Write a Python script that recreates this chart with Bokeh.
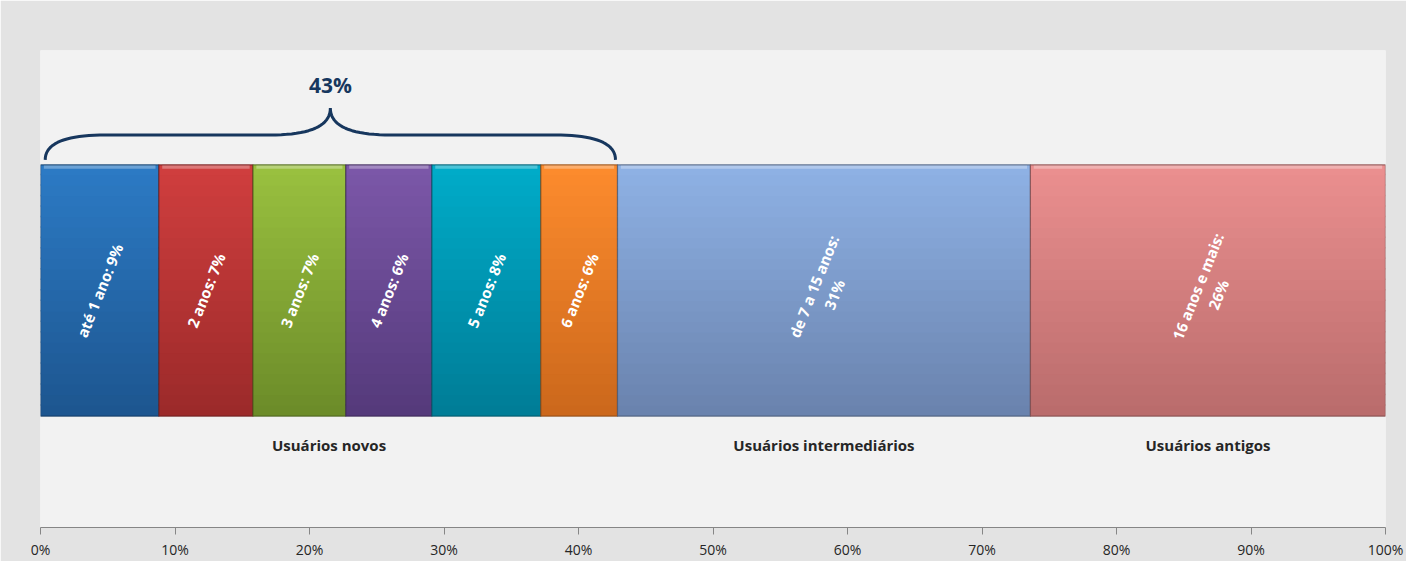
from bokeh.plotting import figure
from bokeh.models import FixedTicker, PrintfTickFormatter, Range1d
from bokeh.core.properties import value
from bokeh.embed import file_html
from bokeh.resources import INLINE

# ---- data ----
segments = ["até 1 ano", "2 anos", "3 anos", "4 anos", "5 anos", "6 anos",
            "de 7 a 15 anos", "16 anos e mais"]
shares = [8.8, 7.0, 6.9, 6.4, 8.1, 5.7, 30.7, 26.4]
bar_labels = ["até 1 ano: 9%", "2 anos: 7%", "3 anos: 7%", "4 anos: 6%",
              "5 anos: 8%", "6 anos: 6%", "de 7 a 15 anos:\n31%", "16 anos e mais:\n26%"]
groups = ["Usuários novos", "Usuários intermediários", "Usuários antigos"]
group_sizes = [6, 1, 1]
brace_label = "43%"
x_ticks = [0, 10, 20, 30, 40, 50, 60, 70, 80, 90, 100]

# ---- style ----
top_cols = ["#2c7ac4", "#cf3e3e", "#99c03f", "#7b57a8", "#00abc8", "#fc8b2d", "#8eb1e4", "#ea8f8f"]
bot_cols = ["#1d5690", "#9c2a2a", "#6c8c29", "#553a7b", "#007d97", "#cc681c", "#6a83ae", "#ba6c6c"]
BAR_Y0, BAR_Y1 = 112, 365


def hex2rgb(h):
    h = h.lstrip("#")
    return tuple(int(h[i:i + 2], 16) for i in (0, 2, 4))


def mix(a, b, t):
    ra, rb = hex2rgb(a), hex2rgb(b)
    return "#%02x%02x%02x" % tuple(int(round(ra[i] + (rb[i] - ra[i]) * t)) for i in range(3))


p = figure(width=1406, height=561, output_backend="svg", toolbar_location=None,
           x_range=Range1d(0, 100), y_range=Range1d(0, 480),
           min_border_left=40, min_border_right=21, min_border_top=50, min_border_bottom=31)
p.border_fill_color = "#e3e3e3"
p.background_fill_color = "#f2f2f2"
p.outline_line_color = None
p.xgrid.visible = False
p.ygrid.visible = False
p.yaxis.visible = False

# cumulative positions
lefts, rights = [], []
acc = 0.0
for s in shares:
    lefts.append(acc)
    acc += s
    rights.append(acc)

# gradient bars
N = 24
for i in range(len(shares)):
    bs, ts, ls, rs, cs = [], [], [], [], []
    h = (BAR_Y1 - BAR_Y0) / N
    for k in range(N):
        bs.append(BAR_Y0 + k * h)
        ts.append(min(BAR_Y0 + (k + 1) * h + 1.5, BAR_Y1))
        ls.append(lefts[i])
        rs.append(rights[i])
        cs.append(mix(bot_cols[i], top_cols[i], k / (N - 1)))
    p.quad(left=ls, right=rs, bottom=bs, top=ts, fill_color=cs, line_color=None)
    # top bevel highlight
    p.quad(left=[lefts[i] + 0.25], right=[rights[i] - 0.25], bottom=[BAR_Y1 - 4], top=[BAR_Y1],
           fill_color=mix(top_cols[i], "#ffffff", 0.3), line_color=None)
    # outline
    p.quad(left=[lefts[i]], right=[rights[i]], bottom=[BAR_Y0], top=[BAR_Y1],
           fill_color=None, line_color=mix(bot_cols[i], "#000000", 0.35), line_width=1.2, line_alpha=0.7)

# bar labels
centers = [(l + r) / 2 for l, r in zip(lefts, rights)]
p.text(x=centers, y=[(BAR_Y0 + BAR_Y1) / 2] * len(centers), text=bar_labels,
       angle=1.19, text_align="center", text_baseline="middle",
       text_color="white", text_font=value("Open Sans"), text_font_style="bold",
       text_font_size="15px", text_line_height=1.1)

# group labels
gx = []
idx = 0
for g in group_sizes:
    gx.append((lefts[idx] + rights[idx + g - 1]) / 2)
    idx += g
p.text(x=gx, y=[83] * len(gx), text=groups, text_align="center", text_baseline="middle",
       text_color="#262626", text_font=value("Open Sans"), text_font_style="bold",
       text_font_size="15px")

# brace over first group
bx0 = lefts[0] + 0.35
bx1 = rights[group_sizes[0] - 1] - 0.15
mid = (bx0 + bx1) / 2
y_end, y_bar, y_peak = 370, 395, 422


def qbez(p0, p1, p2, n=20):
    xs, ys = [], []
    for j in range(n + 1):
        t = j / n
        xs.append((1 - t) ** 2 * p0[0] + 2 * (1 - t) * t * p1[0] + t ** 2 * p2[0])
        ys.append((1 - t) ** 2 * p0[1] + 2 * (1 - t) * t * p1[1] + t ** 2 * p2[1])
    return xs, ys


r = 4.5
xs, ys = [], []
for seg in [((bx0, y_end), (bx0, y_bar), (bx0 + r, y_bar)),
            ((mid - r, y_bar), (mid, y_bar), (mid, y_peak))]:
    a, b = qbez(*seg)
    xs += a
    ys += b
for seg in [((mid, y_peak), (mid, y_bar), (mid + r, y_bar)),
            ((bx1 - r, y_bar), (bx1, y_bar), (bx1, y_end))]:
    a, b = qbez(*seg)
    xs += a
    ys += b
p.line(xs, ys, line_color="#17375e", line_width=3)
p.text(x=[mid], y=[445], text=[brace_label], text_align="center", text_baseline="middle",
       text_color="#17375e", text_font=value("Open Sans"), text_font_style="bold",
       text_font_size="21px")

# x axis
p.xaxis.ticker = FixedTicker(ticks=x_ticks)
p.xaxis.formatter = PrintfTickFormatter(format="%d%%")
p.xaxis.axis_line_color = "#868686"
p.xaxis.major_tick_line_color = "#868686"
p.xaxis.major_tick_out = 7
p.xaxis.major_tick_in = 0
p.xaxis.minor_tick_line_color = None
p.xaxis.major_label_text_font = "Open Sans"
p.xaxis.major_label_text_font_size = "14px"
p.xaxis.major_label_text_color = "#262626"
p.xaxis.major_label_standoff = 5

open("out.html", "w").write(file_html(p, INLINE))
